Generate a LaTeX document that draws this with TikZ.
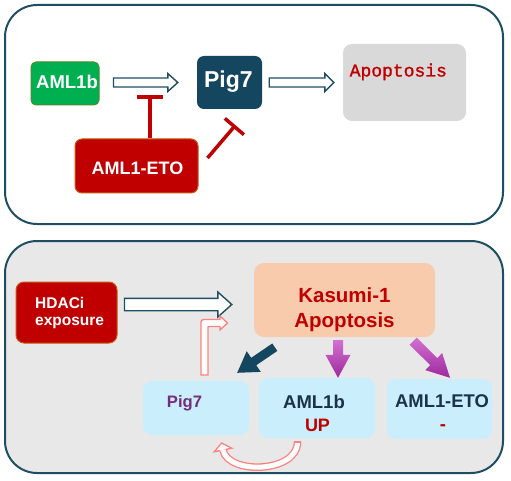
\documentclass[tikz,border=0pt]{standalone}
\usepackage{fontspec}
\setmainfont{Liberation Sans}
\newfontfamily\songfont[FakeBold=1.3]{Liberation Mono}
\usetikzlibrary{calc,arrows.meta}
\definecolor{frame}{HTML}{1F4E63}
\definecolor{tealbox}{HTML}{154660}
\definecolor{greenbox}{HTML}{00B050}
\definecolor{greenedge}{HTML}{4E8A2E}
\definecolor{redbox}{HTML}{C00000}
\definecolor{rededge}{HTML}{C55A11}
\definecolor{graybox}{HTML}{D9D9D9}
\definecolor{panelgray}{HTML}{E8E8E8}
\definecolor{peach}{HTML}{F8CBAD}
\definecolor{lightblue}{HTML}{CAEEFB}
\definecolor{purpletext}{HTML}{762C7A}
\definecolor{navytext}{HTML}{1A3346}
\definecolor{pinkline}{HTML}{FF8080}
\definecolor{purplelight}{HTML}{D46FD0}
\definecolor{purpledark}{HTML}{9C2A9C}
\newcommand\blockarr[6]{% #1 style, #2 start, #3 tip, #4 shaft half, #5 head half, #6 head length
  \coordinate (ba-c) at ($(#3)!#6!(#2)$);
  \path[#1] ($(#2)!#4!90:(#3)$) -- ($(ba-c)!#4!90:(#3)$) -- ($(ba-c)!#5!90:(#3)$) -- (#3)
    -- ($(ba-c)!#5!-90:(#3)$) -- ($(ba-c)!#4!-90:(#3)$) -- ($(#2)!#4!-90:(#3)$) -- cycle;}
\begin{document}
\begin{tikzpicture}[x=1pt,y=-1pt,
  panel/.style={draw=frame, line width=2pt, rounded corners=32pt},
  box/.style={rectangle, inner sep=0pt, anchor=center},
  txt/.style={inner sep=0pt, anchor=base},
  inh/.style={draw=redbox, line width=3.5pt},
  hollow/.style={draw=frame, fill=white, line width=1.4pt, line join=miter},
  pinkhollow/.style={draw=pinkline, fill=white, line width=1.3pt},
]
\useasboundingbox (0,0) rectangle (511,481);
% panels
\path[panel, fill=white] (5,5) rectangle (503,224);
\path[panel, fill=panelgray] (5,241) rectangle (503,473);

% ---------- top panel ----------
\node[box, fill=greenbox, draw=greenedge, line width=1pt, rounded corners=5pt,
      minimum width=68pt, minimum height=43pt] (aml1b) at (65,83.5) {};
\node[txt, text=white, font=\bfseries\fontsize{18.5}{22}\selectfont] (aml1bt) at (67,89) {AML1b};

\node[box, fill=tealbox, rounded corners=7pt, minimum width=65pt, minimum height=53pt] (pig7) at (229.5,82.5) {};
\node[txt, text=white, font=\bfseries\fontsize{23}{26}\selectfont] (pig7t) at (228.3,88) {Pig7};

\node[box, fill=graybox, rounded corners=9pt, minimum width=123pt, minimum height=77pt] (apop) at (404.5,82.5) {};
\node[inner sep=0pt, anchor=base west, text=redbox, font=\songfont\fontsize{18}{22}\selectfont] (apopt) at (349.5,76.5) {Apoptosis};

\node[box, fill=redbox, draw=rededge, line width=1pt, rounded corners=7pt,
      minimum width=123pt, minimum height=54pt] (eto) at (136.5,166) {};
\node[txt, text=white, font=\bfseries\fontsize{18}{22}\selectfont] (etot) at (137.5,175) {AML1-ETO};

% hollow arrows
\coordinate (a1s) at ($(aml1b.east)+(14,-1)$);
\coordinate (a1e) at ($(pig7.west)+(-19,0)$);
\blockarr{hollow}{a1s}{a1e}{4.5pt}{9pt}{10pt}
\coordinate (a2s) at ($(pig7.east)+(7,0)$);
\coordinate (a2e) at ($(apop.west)+(-9,0)$);
\blockarr{hollow}{a2s}{a2e}{4.5pt}{9pt}{9pt}

% inhibition lines
\coordinate (i1s) at ($(eto.north)+(13.5,0)$);
\coordinate (i1e) at ($(eto.north)+(13.5,-43)$);
\draw[inh, -{Bar[width=26pt, line width=3.5pt]}] (i1s) -- (i1e);
\coordinate (i2s) at ($(eto.east)+(9,-8)$);
\coordinate (i2e) at ($(pig7.south)+(6,16)$);
\draw[inh, -{Bar[width=25pt, line width=3.5pt]}] (i2s) -- (i2e);

% ---------- bottom panel ----------
\node[box, fill=redbox, draw=rededge, line width=1pt, rounded corners=8pt,
      minimum width=101pt, minimum height=61pt] (hdaci) at (66.5,312.5) {};
\node[inner sep=0pt, anchor=base west, text=white, font=\bfseries\fontsize{15.5}{19}\selectfont] (hdt1) at (35,308.5) {HDACi};
\node[inner sep=0pt, anchor=base west, text=white, font=\bfseries\fontsize{15.5}{19}\selectfont] (hdt2) at (35,325.5) {exposure};

\node[box, fill=peach, rounded corners=10pt, minimum width=181pt, minimum height=74pt] (kas) at (344.5,300) {};
\node[txt, text=redbox, font=\bfseries\fontsize{20.5}{25}\selectfont] (kast1) at (344.5,302.7) {Kasumi-1};
\node[txt, text=redbox, font=\bfseries\fontsize{20.5}{25}\selectfont] (kast2) at (344.5,327.7) {Apoptosis};

\node[box, fill=lightblue, rounded corners=9pt, minimum width=106pt, minimum height=54pt] (pigb) at (196,408) {};
\node[txt, text=purpletext, font=\bfseries\fontsize{16.6}{20}\selectfont] (pigbt) at (184.5,407) {Pig7};

\node[box, fill=lightblue, rounded corners=9pt, minimum width=116pt, minimum height=60pt] (amlb) at (317,408) {};
\node[txt, text=navytext, font=\bfseries\fontsize{18.5}{22}\selectfont] (amlbt1) at (314,408) {AML1b};
\node[txt, text=redbox, font=\bfseries\fontsize{18}{22}\selectfont] (amlbt2) at (317.5,431.5) {UP};

\node[box, fill=lightblue, rounded corners=9pt, minimum width=105pt, minimum height=60pt] (etob) at (439.5,409) {};
\node[txt, text=navytext, font=\bfseries\fontsize{18.4}{22}\selectfont] (etobt1) at (442,407) {AML1-ETO};
\node[txt, text=redbox, font=\bfseries\fontsize{18.4}{22}\selectfont] (etobt2) at (443,430) {-};

% hollow arrow HDACi -> Kasumi
\coordinate (a3s) at ($(hdaci.east)+(7,-8)$);
\coordinate (a3e) at ($(kas.west)+(-22,4.5)$);
\blockarr{hollow}{a3s}{a3e}{6.2pt}{12.5pt}{14pt}

% dark teal arrow Kasumi -> Pig7
\coordinate (t1s) at ($(kas.south west)+(21,10)$);
\coordinate (t1e) at ($(pigb.north east)+(-12,-8)$);
\blockarr{fill=tealbox}{t1s}{t1e}{4.5pt}{12.5pt}{20pt}

% purple arrows
\coordinate (p1s) at ($(kas.south)+(-6.5,3)$);
\coordinate (p1e) at ($(amlb.north)+(21,0)$);
\blockarr{top color=purplelight, bottom color=purpledark}{p1s}{p1e}{5pt}{12.5pt}{23pt}
\coordinate (p2s) at ($(kas.south east)+(-22,4)$);
\coordinate (p2e) at ($(etob.north)+(10.5,-1)$);
\blockarr{top color=purplelight, bottom color=purpledark}{p2s}{p2e}{5pt}{12pt}{23pt}

% pink elbow hollow arrow (Pig7 -> Kasumi)
\path[pinkhollow] (201,375) -- (201,325.5) .. controls (201,319.5) .. (207,319.5) -- (220,319.5)
  -- (220,316) -- (227.5,323) -- (220,330) -- (220,326.5) -- (209.5,326.5)
  .. controls (208,326.5) .. (208,328) -- (208,375) -- cycle;

% pink curved hollow arrow (AML1b -> Pig7)
\fill[white] (231.8,448.2) -- (221.6,443) -- (214.2,451.8) -- cycle;
\draw[pinkline, line width=1.3pt, double=white, double distance=5pt]
  (297.5,442) .. controls (297.5,473) and (228,475) .. (223,450);
\draw[pinkline, line width=1.3pt, line join=miter]
  (226.1,449.4) -- (231.8,448.2) -- (221.6,443) -- (214.2,451.8) -- (219.9,450.6);
\draw[pinkline, line width=1.3pt] (293.7,442) -- (301.3,442);
\end{tikzpicture}
\end{document}
